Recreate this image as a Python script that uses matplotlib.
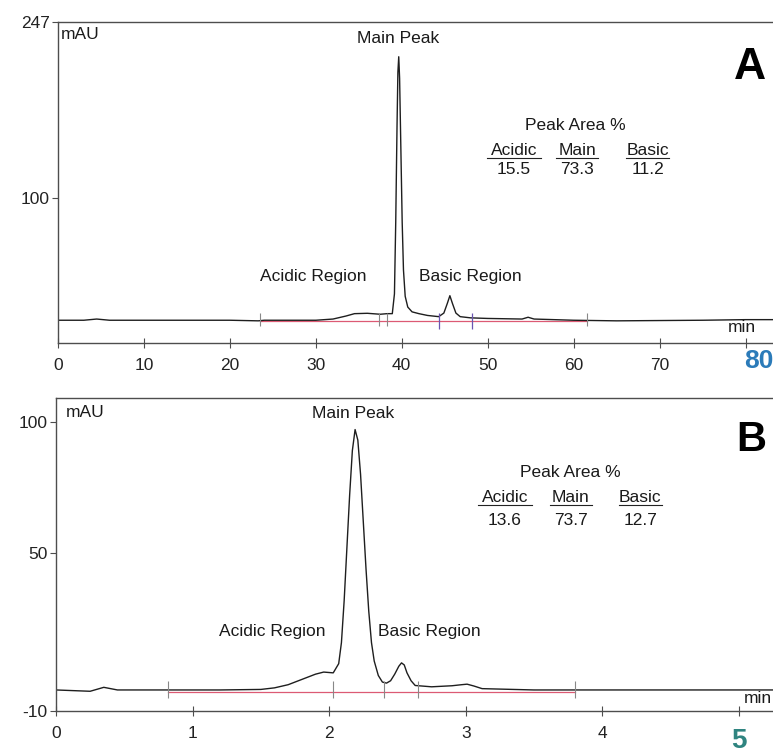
import numpy as np
import matplotlib
matplotlib.use('Agg')
import matplotlib.pyplot as plt

plt.rcParams['font.family'] = ['Liberation Sans', 'DejaVu Sans']
plt.rcParams['axes.unicode_minus'] = False

# ---- panel A trace (min, mAU)
tA = [0, 3, 4.5, 6, 20, 23.3, 24, 30, 32, 33.5, 34.5, 36, 37.5, 38.3, 38.9,
      39.15, 39.3, 39.45, 39.55, 39.65, 39.75, 39.9, 40.05, 40.2, 40.4, 40.7,
      41.2, 42, 43, 44.3, 44.9, 45.3, 45.6, 45.9, 46.3, 46.8, 48, 50, 54,
      54.7, 55.4, 60, 65, 75, 80, 83.3]
yA = [-2, -2, -1, -2, -2, -2.5, -2, -2, -1, 1.5, 3.5, 3.8, 3.0, 3.5, 3.5,
      20, 80, 160, 205, 218, 200, 140, 80, 40, 18, 9,
      5, 3.5, 2, 1, 4, 12, 18.5, 12, 4, 1, 0, -0.5, -1,
      0.5, -1, -2, -2.5, -2, -1.5, -1.5]
baseA_t = [23.5, 61.5]
baseA_y = [-2.5, -2.5]
marksA_grey = [23.5, 37.3, 38.3, 61.5]
marksA_purple = [44.3, 48.2]
areaA = ['15.5', '73.3', '11.2']

# ---- panel B trace
tB = [0, 0.25, 0.35, 0.45, 0.8, 1.2, 1.5, 1.6, 1.7, 1.8, 1.9, 1.96, 2.03,
      2.07, 2.09, 2.11, 2.13, 2.15, 2.17, 2.19, 2.21, 2.23, 2.25, 2.27, 2.29,
      2.31, 2.33, 2.36, 2.39, 2.42, 2.45, 2.48, 2.51, 2.53, 2.55, 2.57, 2.60,
      2.63, 2.75, 2.9, 2.97, 3.01, 3.06, 3.12, 3.5, 4, 5.25]
yB = [-2, -2.5, -1, -2, -2, -2, -1.8, -1.2, 0, 2.0, 4.0, 4.8, 4.5,
      8, 16, 32, 52, 72, 89, 97, 93, 80, 62, 44, 28,
      16, 9, 3.5, 1, 0.6, 1.5, 4, 7, 8.3, 7.5, 4.5, 1.5,
      -0.3, -0.8, -0.4, 0, 0.2, -0.5, -1.5, -2, -2, -2]
baseB_t = [0.82, 3.8]
baseB_y = [-2.8, -2.8]
marksB = [0.82, 2.03, 2.40, 2.65, 3.8]
areaB = ['13.6', '73.7', '12.7']

heads = ['Acidic', 'Main', 'Basic']

W, H = 773, 753
fig = plt.figure(figsize=(W / 100, H / 100), dpi=100)
axA = fig.add_axes([58 / W, 1 - 343 / H, 715 / W, 321 / H])
axB = fig.add_axes([56 / W, 1 - 711 / H, 717 / W, 313 / H])

spine_c = '#4d4d4d'
fs = 12.5


def style(ax):
    ax.spines['right'].set_visible(False)
    for s in ['top', 'left', 'bottom']:
        ax.spines[s].set_color(spine_c)
        ax.spines[s].set_linewidth(1.0)
    ax.tick_params(axis='x', direction='inout', length=7, width=0.8,
                   color=spine_c, labelsize=fs, pad=7, labelcolor='#222222')
    ax.tick_params(axis='y', direction='out', length=4, width=0.8,
                   color=spine_c, labelsize=fs, pad=2, labelcolor='#222222')


def txt(ax, x, y, s, **kw):
    ax.text(x, y, s, transform=ax.transAxes, fontsize=fs,
            ha=kw.pop('ha', 'center'), va='center', color='#1a1a1a', **kw)


# ---------- A
ax = axA
style(ax)
ax.plot(baseA_t, baseA_y, color='#dc5a74', lw=0.9)
ax.plot(tA, yA, color='#1e1e1e', lw=1.0)
ax.vlines(marksA_grey, -7, 4, color='#888888', lw=0.8)
ax.vlines(marksA_purple, -9, 4, color='#6a55b0', lw=0.9)
ax.set_xlim(0, 83.2)
ax.set_ylim(-21, 247)
ax.set_xticks(np.arange(0, 90, 10))
ax.set_xticklabels([str(v) for v in range(0, 80, 10)] + [''])
ax.set_yticks([100, 247])
txt(ax, 0.004, 0.96, 'mAU', ha='left')
txt(ax, 0.4755, 0.95, 'Main Peak')
ax.text(0.968, 0.857, 'A', transform=ax.transAxes, fontsize=32,
        fontweight='bold', ha='center', va='center')
txt(ax, 0.723, 0.679, 'Peak Area %')
for xf, h, v in zip([0.638, 0.726, 0.825], heads, areaA):
    txt(ax, xf, 0.601, h)
    txt(ax, xf, 0.539, v)
for x0, x1 in [(0.600, 0.676), (0.697, 0.755), (0.795, 0.855)]:
    ax.plot([x0, x1], [0.575, 0.575], transform=ax.transAxes,
            color='#222222', lw=0.8)
txt(ax, 0.357, 0.206, 'Acidic Region')
txt(ax, 0.576, 0.206, 'Basic Region')
txt(ax, 0.957, 0.047, 'min')
ax.text(81.5, -36, '80', fontsize=19, fontweight='bold', color='#2b7bb9',
        ha='center', va='center', clip_on=False)

# ---------- B
ax = axB
style(ax)
ax.plot(baseB_t, baseB_y, color='#dc5a74', lw=0.9)
ax.plot(tB, yB, color='#1e1e1e', lw=1.0)
ax.vlines(marksB, -5, 1.5, color='#888888', lw=0.8)
ax.set_xlim(0, 5.25)
ax.set_ylim(-10, 109)
ax.set_xticks(np.arange(0, 6, 1))
ax.set_xticklabels([str(v) for v in range(0, 5)] + [''])
ax.set_yticks([-10, 50, 100])
txt(ax, 0.013, 0.955, 'mAU', ha='left')
txt(ax, 0.414, 0.95, 'Main Peak')
ax.text(0.97, 0.866, 'B', transform=ax.transAxes, fontsize=30,
        fontweight='bold', ha='center', va='center')
txt(ax, 0.717, 0.762, 'Peak Area %')
for xf, h, v in zip([0.626, 0.718, 0.815], heads, areaB):
    txt(ax, xf, 0.683, h)
    txt(ax, xf, 0.610, v)
for x0, x1 in [(0.588, 0.664), (0.689, 0.747), (0.785, 0.845)]:
    ax.plot([x0, x1], [0.657, 0.657], transform=ax.transAxes,
            color='#222222', lw=0.8)
txt(ax, 0.301, 0.253, 'Acidic Region')
txt(ax, 0.521, 0.253, 'Basic Region')
txt(ax, 0.998, 0.04, 'min', ha='right')
ax.text(5, -21.5, '5', fontsize=20, fontweight='bold', color='#2f8480',
        ha='center', va='center', clip_on=False)

fig.savefig('out.png', dpi=100, facecolor='white')
